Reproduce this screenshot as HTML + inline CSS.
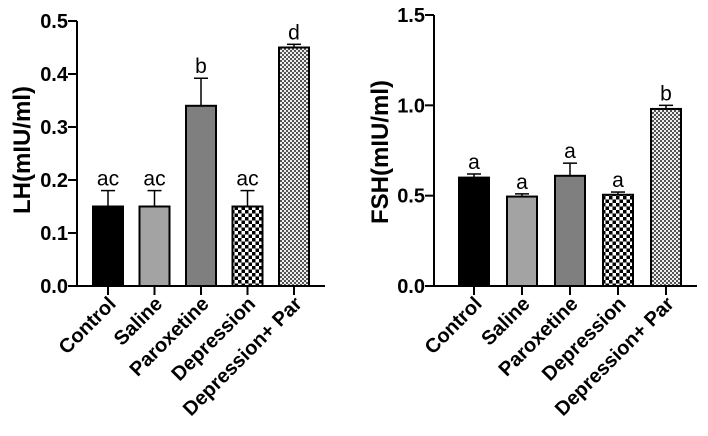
<!DOCTYPE html>
<html><head><meta charset="utf-8"><style>
html,body{margin:0;padding:0;background:#fff;}
svg{display:block;font-family:"Liberation Sans",Arial,sans-serif;}
</style></head><body>
<svg id="c" width="708" height="436" viewBox="0 0 708 436" xmlns="http://www.w3.org/2000/svg">
<defs>
<pattern id="chk" width="7" height="7" patternUnits="userSpaceOnUse"><rect width="7" height="7" fill="#fff"/><rect width="3.5" height="3.5" fill="#000"/><rect x="3.5" y="3.5" width="3.5" height="3.5" fill="#000"/></pattern>
<pattern id="fine" width="4" height="4" patternUnits="userSpaceOnUse"><rect width="4" height="4" fill="#eee"/><rect width="2" height="2" fill="#555"/><rect x="2" y="2" width="2" height="2" fill="#555"/></pattern>
</defs>
</svg>
<script>
const categories=["Control","Saline","Paroxetine","Depression","Depression+ Par"];
const lhValues=[0.15,0.15,0.34,0.15,0.45];
const lhErrors=[0.03,0.03,0.052,0.03,0.006];
const lhLetters=["ac","ac","b","ac","d"];
const lhTicks=["0.0","0.1","0.2","0.3","0.4","0.5"];
const fshValues=[0.60,0.495,0.61,0.505,0.98];
const fshErrors=[0.02,0.015,0.07,0.015,0.02];
const fshLetters=["a","a","a","a","b"];
const fshTicks=["0.0","0.5","1.0","1.5"];
const fills=["#000","#a3a3a3","#7f7f7f","url(#chk)","url(#fine)"];
const svg=document.getElementById('c');
const NS="http://www.w3.org/2000/svg";
function mk(tag,attrs,parent){const e=document.createElementNS(NS,tag);for(const k in attrs)e.setAttribute(k,attrs[k]);(parent||svg).appendChild(e);return e;}
function chart(cfg){
  const g=mk('g',{});
  
  
  const y=v=>cfg.y0-(v/cfg.max)*(cfg.y0-cfg.yTop);
  const x=i=>cfg.xFirst+i*cfg.step;
  const ya=mk('line',{x1:cfg.ax,y1:cfg.yTop,x2:cfg.ax,y2:cfg.y0,stroke:'#000','stroke-width':2},g);
  
  
  const xa=mk('line',{x1:cfg.ax-1,y1:cfg.y0,x2:cfg.axEnd,y2:cfg.y0,stroke:'#000','stroke-width':2},g);
  
  
  cfg.ticks.forEach(t=>{
    const v=parseFloat(t),yy=y(v);
    mk('line',{x1:cfg.ax-9,y1:yy,x2:cfg.ax,y2:yy,stroke:'#000','stroke-width':2},g);
    const tx=mk('text',{x:cfg.ax-9,y:yy+7,'text-anchor':'end','font-size':20,'font-weight':'bold'},g);
    tx.textContent=t;
    
    
  });
  const tt=mk('text',{x:0,y:0,'text-anchor':'middle','font-size':24,'font-weight':'bold',transform:`translate(${cfg.titleX},${cfg.titleY}) rotate(-90)`},g);
  tt.textContent=cfg.title;
  
  
  categories.forEach((c,i)=>{
    const cx=x(i),v=cfg.values[i],e=cfg.errors[i];
    const ye=y(v+e);
    mk('line',{x1:cx,y1:y(v),x2:cx,y2:ye,stroke:'#000','stroke-width':1.5},g);
    mk('line',{x1:cx-7,y1:ye,x2:cx+7,y2:ye,stroke:'#000','stroke-width':1.5},g);
    const b=mk('rect',{x:cx-15,y:y(v),width:30,height:cfg.y0-y(v),fill:fills[i],stroke:'#000','stroke-width':2},g);
    
    
    const lt=mk('text',{x:cx,y:ye-5,'text-anchor':'middle','font-size':21},g);
    lt.textContent=cfg.letters[i];
    
    
    mk('line',{x1:cx,y1:cfg.y0,x2:cx,y2:cfg.y0+9,stroke:'#000','stroke-width':2},g);
    const xl=mk('text',{x:0,y:0,'text-anchor':'end','font-size':20,'font-weight':'bold',transform:`translate(${cx+9},${cfg.y0+19}) rotate(-45)`},g);
    xl.textContent=c;
    
    
  });
}
chart({name:'lh-chart',values:lhValues,errors:lhErrors,letters:lhLetters,ticks:lhTicks,max:0.5,y0:286,yTop:21,ax:77,axEnd:325,xFirst:108,step:46.5,title:'LH(mIU/ml)',titleX:30,titleY:150});
chart({name:'fsh-chart',values:fshValues,errors:fshErrors,letters:fshLetters,ticks:fshTicks,max:1.5,y0:286,yTop:15,ax:434,axEnd:697,xFirst:474,step:48,title:'FSH(mIU/ml)',titleX:388,titleY:152});
</script>
</body></html>
